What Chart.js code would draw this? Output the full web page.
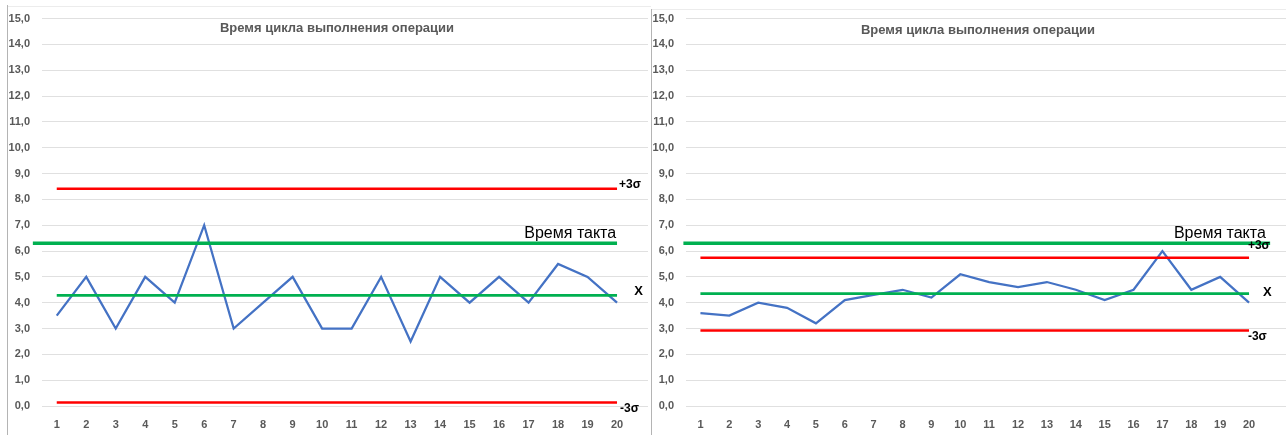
<!DOCTYPE html>
<html>
<head>
<meta charset="utf-8">
<script src="https://cdn.jsdelivr.net/npm/chart.js@4.4.1/dist/chart.umd.min.js"></script>
<style>
    html, body { margin: 0; padding: 0; background: #fff; }
    #page { position: relative; width: 1286px; height: 435px; overflow: hidden; }
    #leftBox { position: absolute; left: 0; top: 0; width: 650px; height: 435px; }
    #rightBox { position: absolute; left: 651px; top: 0; width: 635px; height: 435px; }
    .vline { position: absolute; width: 1px; background: #b4b4b4; }
    .hline { position: absolute; height: 1px; background: #ececec; }
</style>
</head>
<body>
<div id="page">
    <div class="hline" style="left:8px; top:6px; width:643px;"></div>
    <div class="hline" style="left:652px; top:9px; width:634px;"></div>
    <div id="leftBox"><canvas id="leftChart" width="650" height="435"></canvas></div>
    <div id="rightBox"><canvas id="rightChart" width="635" height="435"></canvas></div>
    <div class="vline" style="left:7px; top:5px; height:430px;"></div>
    <div class="vline" style="left:651px; top:9px; height:426px;"></div>
</div>
<script>
// operation numbers
const categories = [1, 2, 3, 4, 5, 6, 7, 8, 9, 10, 11, 12, 13, 14, 15, 16, 17, 18, 19, 20];

// cycle time, left chart (before)
const leftTimes = [3.5, 5.0, 3.0, 5.0, 4.0, 7.0, 3.0, 4.0, 5.0, 3.0, 3.0, 5.0, 2.5, 5.0, 4.0, 5.0, 4.0, 5.5, 5.0, 4.0];
const leftUcl = 8.41;
const leftMean = 4.28;
const leftLcl = 0.14;

// cycle time, right chart (after)
const rightTimes = [3.6, 3.5, 4.0, 3.8, 3.2, 4.1, 4.3, 4.5, 4.2, 5.1, 4.8, 4.6, 4.8, 4.5, 4.1, 4.5, 6.0, 4.5, 5.0, 4.0];
const rightUcl = 5.74;
const rightMean = 4.35;
const rightLcl = 2.92;

// takt time
const taktTime = 6.3;
const leftTaktSpan = [0.19, 20];
const rightTaktSpan = [0.41, 20.73];

// y axis
const yMin = 0;
const yMax = 15;
const yStep = 1;

const chartTitle = "Время цикла выполнения операции";
const taktLabel = "Время такта";

const tickFont = { family: "'Liberation Sans', Arial, sans-serif", size: 11, weight: "bold" };
const tickColor = "#595959";

function flatLine(x1, x2, y) {
    return [{ x: x1, y: y }, { x: x2, y: y }];
}

// title and line captions, placed through the chart scales
const captionsPlugin = {
    id: "captions",
    afterDatasetsDraw(chart, args, opts) {
        const ctx = chart.ctx;
        const xs = chart.scales.x;
        const ys = chart.scales.y;
        const area = chart.chartArea;
        ctx.save();
        ctx.textBaseline = "middle";

        ctx.fillStyle = "#595959";
        ctx.font = "bold 13px 'Liberation Sans', Arial, sans-serif";
        ctx.textAlign = "center";
        ctx.fillText(chartTitle, (area.left + area.right) / 2 - 8, opts.titleY);

        ctx.fillStyle = "#000";
        ctx.font = "16px 'Liberation Sans', Arial, sans-serif";
        ctx.textAlign = "right";
        ctx.fillText(taktLabel, xs.getPixelForValue(opts.taktAt[0]), ys.getPixelForValue(opts.taktAt[1]));

        ctx.textAlign = "left";
        opts.marks.forEach(m => {
            ctx.font = (m.text === "X" ? "bold 13px" : "bold 12px") + " 'Liberation Sans', Arial, sans-serif";
            ctx.fillText(m.text, xs.getPixelForValue(m.x), ys.getPixelForValue(m.y));
        });
        ctx.restore();
    }
};

function makeChart(canvasId, times, ucl, mean, lcl, taktSpan, xMax, axisWidth, topPad, rightPad, captions) {
    const first = categories[0];
    const last = categories[categories.length - 1];
    const ctx = document.getElementById(canvasId).getContext("2d");

    return new Chart(ctx, {
        type: "line",
        data: {
            datasets: [
                {
                    label: "Время такта",
                    data: flatLine(taktSpan[0], taktSpan[1], taktTime),
                    borderColor: "#00B050",
                    borderWidth: 3.5,
                    clip: false
                },
                {
                    label: "+3σ",
                    data: flatLine(first, last, ucl),
                    borderColor: "#FF0000",
                    borderWidth: 2.5
                },
                {
                    label: "-3σ",
                    data: flatLine(first, last, lcl),
                    borderColor: "#FF0000",
                    borderWidth: 2.5
                },
                {
                    label: "X",
                    data: flatLine(first, last, mean),
                    borderColor: "#00B050",
                    borderWidth: 2.75
                },
                {
                    label: "Время цикла",
                    data: categories.map((c, i) => ({ x: c, y: times[i] })),
                    borderColor: "#4472C4",
                    borderWidth: 2.25
                }
            ]
        },
        options: {
            responsive: false,
            animation: false,
            devicePixelRatio: 1,
            layout: { padding: { left: 0, right: rightPad, top: topPad, bottom: 0 } },
            elements: {
                point: { radius: 0, hoverRadius: 0 },
                line: { tension: 0, fill: false, borderCapStyle: "butt" }
            },
            plugins: {
                legend: { display: false },
                tooltip: { enabled: false },
                captions: captions
            },
            scales: {
                x: {
                    type: "linear",
                    min: 0.5,
                    max: xMax,
                    grid: { display: false, drawTicks: false },
                    border: { display: false },
                    afterBuildTicks: axis => { axis.ticks = categories.map(c => ({ value: c })); },
                    afterFit: axis => { axis.height = 29; },
                    ticks: {
                        font: tickFont,
                        color: tickColor,
                        padding: 12,
                        maxRotation: 0,
                        autoSkip: false,
                        callback: v => String(v)
                    }
                },
                y: {
                    min: yMin,
                    max: yMax,
                    grid: { color: "#e0e0e0", lineWidth: 1, drawTicks: false },
                    border: { display: false },
                    afterFit: axis => { axis.width = axisWidth; },
                    ticks: {
                        stepSize: yStep,
                        font: tickFont,
                        color: tickColor,
                        padding: 12,
                        callback: v => v.toFixed(1).replace(".", ",")
                    }
                }
            }
        },
        plugins: [captionsPlugin]
    });
}

makeChart("leftChart", leftTimes, leftUcl, leftMean, leftLcl, leftTaktSpan, 21.05, 42, 15, 2, {
    titleY: 28,
    taktAt: [19.97, 6.68],
    marks: [
        { text: "+3σ", x: 20.07, y: 8.55 },
        { text: "X", x: 20.58, y: 4.42 },
        { text: "-3σ", x: 20.1, y: -0.12 }
    ]
});

makeChart("rightChart", rightTimes, rightUcl, rightMean, rightLcl, rightTaktSpan, 21.28, 35, 17, 0, {
    titleY: 30,
    taktAt: [20.58, 6.68],
    marks: [
        { text: "+3σ", x: 19.96, y: 6.2 },
        { text: "X", x: 20.48, y: 4.4 },
        { text: "-3σ", x: 19.96, y: 2.7 }
    ]
});
</script>
</body>
</html>
